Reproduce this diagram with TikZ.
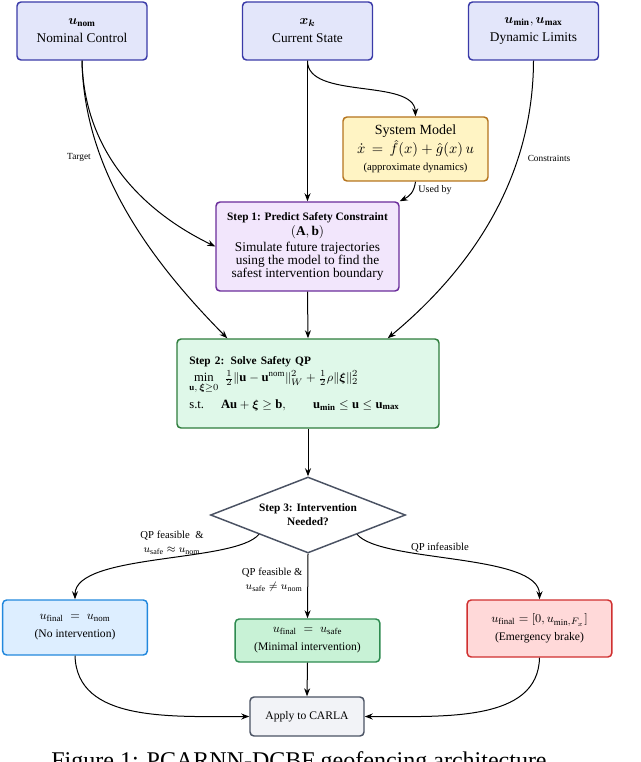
\documentclass[tikz,border=0pt]{standalone}
\usepackage{fontspec}
\setmainfont{Liberation Serif}
\usepackage{amsmath,amssymb,bm}
\usetikzlibrary{shapes.geometric,arrows.meta}
\definecolor{topfill}{HTML}{E3E6FA}
\definecolor{topdraw}{HTML}{3A3AA8}
\definecolor{sysfill}{HTML}{FFF4C4}
\definecolor{sysdraw}{HTML}{B5741E}
\definecolor{sAfill}{HTML}{F2E6FC}
\definecolor{sAdraw}{HTML}{6A2C9A}
\definecolor{sBfill}{HTML}{DFF8E9}
\definecolor{sBdraw}{HTML}{2E7D3C}
\definecolor{diadraw}{HTML}{4A5263}
\definecolor{nofill}{HTML}{DDEEFF}
\definecolor{nodraw}{HTML}{2288DD}
\definecolor{minfill}{HTML}{C8F2D6}
\definecolor{mindraw}{HTML}{2E8B50}
\definecolor{emfill}{HTML}{FFD9D9}
\definecolor{emdraw}{HTML}{D03030}
\definecolor{apfill}{HTML}{F2F3F7}
\begin{document}
\begin{tikzpicture}[x=0.75pt,y=-0.75pt,
  box/.style={draw, rounded corners=3pt, line width=1.1pt, align=center, inner sep=2pt},
  topbox/.style={box, fill=topfill, draw=topdraw, minimum width=97.5pt, minimum height=43.5pt, font=\fontsize{10}{13.5}\selectfont},
  outbox/.style={box, minimum width=108.5pt, font=\fontsize{8.7}{13.5}\selectfont},
  edge/.style={-{Stealth[length=6pt,width=4.5pt]}, line width=0.75pt},
  elab/.style={font=\fontsize{7}{8}\selectfont, inner sep=1pt},
  blab/.style={font=\fontsize{8}{10.5}\selectfont, inner sep=1pt, align=center}]
\useasboundingbox (0,0) rectangle (640,762);

% top inputs
\node[topbox] (nom) at (82,31) {$\bm{u}_{\mathbf{nom}}$\\Nominal Control};
\node[topbox] (cur) at (307.5,31) {$\bm{x}_{\bm{k}}$\\Current State};
\node[topbox] (dyn) at (533.5,31) {$\bm{u}_{\mathbf{min}}, \bm{u}_{\mathbf{max}}$\\Dynamic Limits};

% system model
\node[box, fill=sysfill, draw=sysdraw, minimum width=108.75pt, minimum height=48pt, font=\fontsize{10.5}{12.4}\selectfont] (sys) at (415.5,149)
  {System Model\\[0.5pt] $\dot{x} \,=\, \hat{f}(x) + \hat{g}(x)\,u$\\ {\fontsize{8}{10}\selectfont (approximate dynamics)}};

% step 1
\node[box, fill=sAfill, draw=sAdraw, minimum width=137.25pt, minimum height=66.75pt, font=\fontsize{10}{9.8}\selectfont] (sA) at (307.5,246.5)
  {{\fontsize{8.5}{9.8}\selectfont\bfseries Step 1: Predict Safety Constraint}\\[1.5pt]
   $(\mathbf{A},\mathbf{b})$\\[1.5pt]
   Simulate future trajectories\\ using the model to find the\\ safest intervention boundary};

% step 2
\node[box, fill=sBfill, draw=sBdraw, minimum width=196.5pt, minimum height=66.75pt, align=left, text width=178pt, inner xsep=8.25pt, font=\fontsize{9.5}{12}\selectfont] (sB) at (308,383.5)
  {{\fontsize{8.5}{10}\selectfont\bfseries Step 2: Solve Safety QP}\\[1pt]
   $\min\limits_{\mathbf{u},\,\bm{\xi}\ge 0}\ \tfrac{1}{2}\|\mathbf{u}-\mathbf{u}^{\mathrm{nom}}\|_W^2+\tfrac{1}{2}\rho\|\bm{\xi}\|_2^2$\\[3.5pt]
   s.t.\quad\ $\mathbf{A}\mathbf{u}+\bm{\xi}\ge\mathbf{b},\qquad \mathbf{u}_{\mathbf{min}}\le\mathbf{u}\le\mathbf{u}_{\mathbf{max}}$};

% step 3 decision
\node[diamond, draw=diadraw, line width=1.1pt, fill=white, aspect=2.56, minimum width=146.25pt, minimum height=57pt, inner sep=0pt, align=center, font=\fontsize{8.5}{10.5}\selectfont\bfseries] (dia) at (308,515)
  {Step 3: Intervention\\Needed?};

% outcomes
\node[outbox, fill=nofill, draw=nodraw, minimum height=41.25pt] (no) at (75,627.5)
  {{\fontsize{9.5}{13.5}\selectfont$u_{\text{final}} \;=\; u_{\text{nom}}$}\\(No intervention)};
\node[outbox, fill=minfill, draw=mindraw, minimum height=32.25pt] (mi) at (307.5,640.5)
  {{\fontsize{9.5}{13.5}\selectfont$u_{\text{final}} \;=\; u_{\text{safe}}$}\\(Minimal intervention)};
\node[outbox, fill=emfill, draw=emdraw, minimum height=42.75pt] (em) at (539.5,628.5)
  {{\fontsize{9.5}{13.5}\selectfont$u_{\text{final}} = [0, u_{\min,F_x}]$}\\(Emergency brake)};
\node[box, fill=apfill, draw=diadraw, minimum width=85.5pt, minimum height=29.25pt, font=\fontsize{8.7}{10}\selectfont] (ap) at (307,716.5) {Apply to CARLA};

% connectors
\draw[edge] (nom.south) .. controls (84,150) and (140,210) .. (sA.west);
\draw[edge] (nom.south) .. controls (84,170) and (150,260) .. ([xshift=38.25pt]sB.north west);
\draw[edge] (dyn.south) .. controls (533,180) and (470,270) .. ([xshift=-39pt]sB.north east);
\draw[edge] (cur.south) -- (sA.north);
\draw[edge] (cur.south) .. controls (307,100) and (414,78) .. (sys.north);
\draw[edge] (sys.south) .. controls (414,192) and (410,196) .. (sA.north east);
\draw[edge] (sA.south) -- (sB.north);
\draw[edge] (sB.south) -- (dia.north);
\draw[edge] (dia.south west) .. controls (235,563) and (75,553) .. (no.north);
\draw[edge] (dia.south east) .. controls (381,563) and (539.5,553) .. (em.north);
\draw[edge] (dia.south) -- (mi.north);
\draw[edge] (no.south) .. controls (77,722) and (170,716.5) .. (ap.west);
\draw[edge] (em.south) .. controls (538,722) and (445,716.5) .. (ap.east);
\draw[edge] (mi.south) -- (ap.north);

% connector labels
\node[elab] (lTarget) at (79,157) {Target};
\node[elab] (lCons) at (549,158) {Constraints};
\node[elab, font=\fontsize{7.5}{8}\selectfont] (lUsed) at (435,190) {Used by};
\node[blab] (lFeasA) at (172,543) {QP feasible \ \&\\ $u_{\text{safe}}\approx u_{\text{nom}}$};
\node[blab, align=right, anchor=east] (lFeasB) at (304,580) {QP feasible \&\\ $u_{\text{safe}}\neq u_{\text{nom}}$};
\node[blab] (lInf) at (440,548) {QP infeasible};

% caption (cut by the page edge)
\node[font=\fontsize{18}{20}\selectfont, anchor=base] (cap) at (299,768) {Figure 1: PCARNN-DCBF geofencing architecture};
\end{tikzpicture}
\end{document}
